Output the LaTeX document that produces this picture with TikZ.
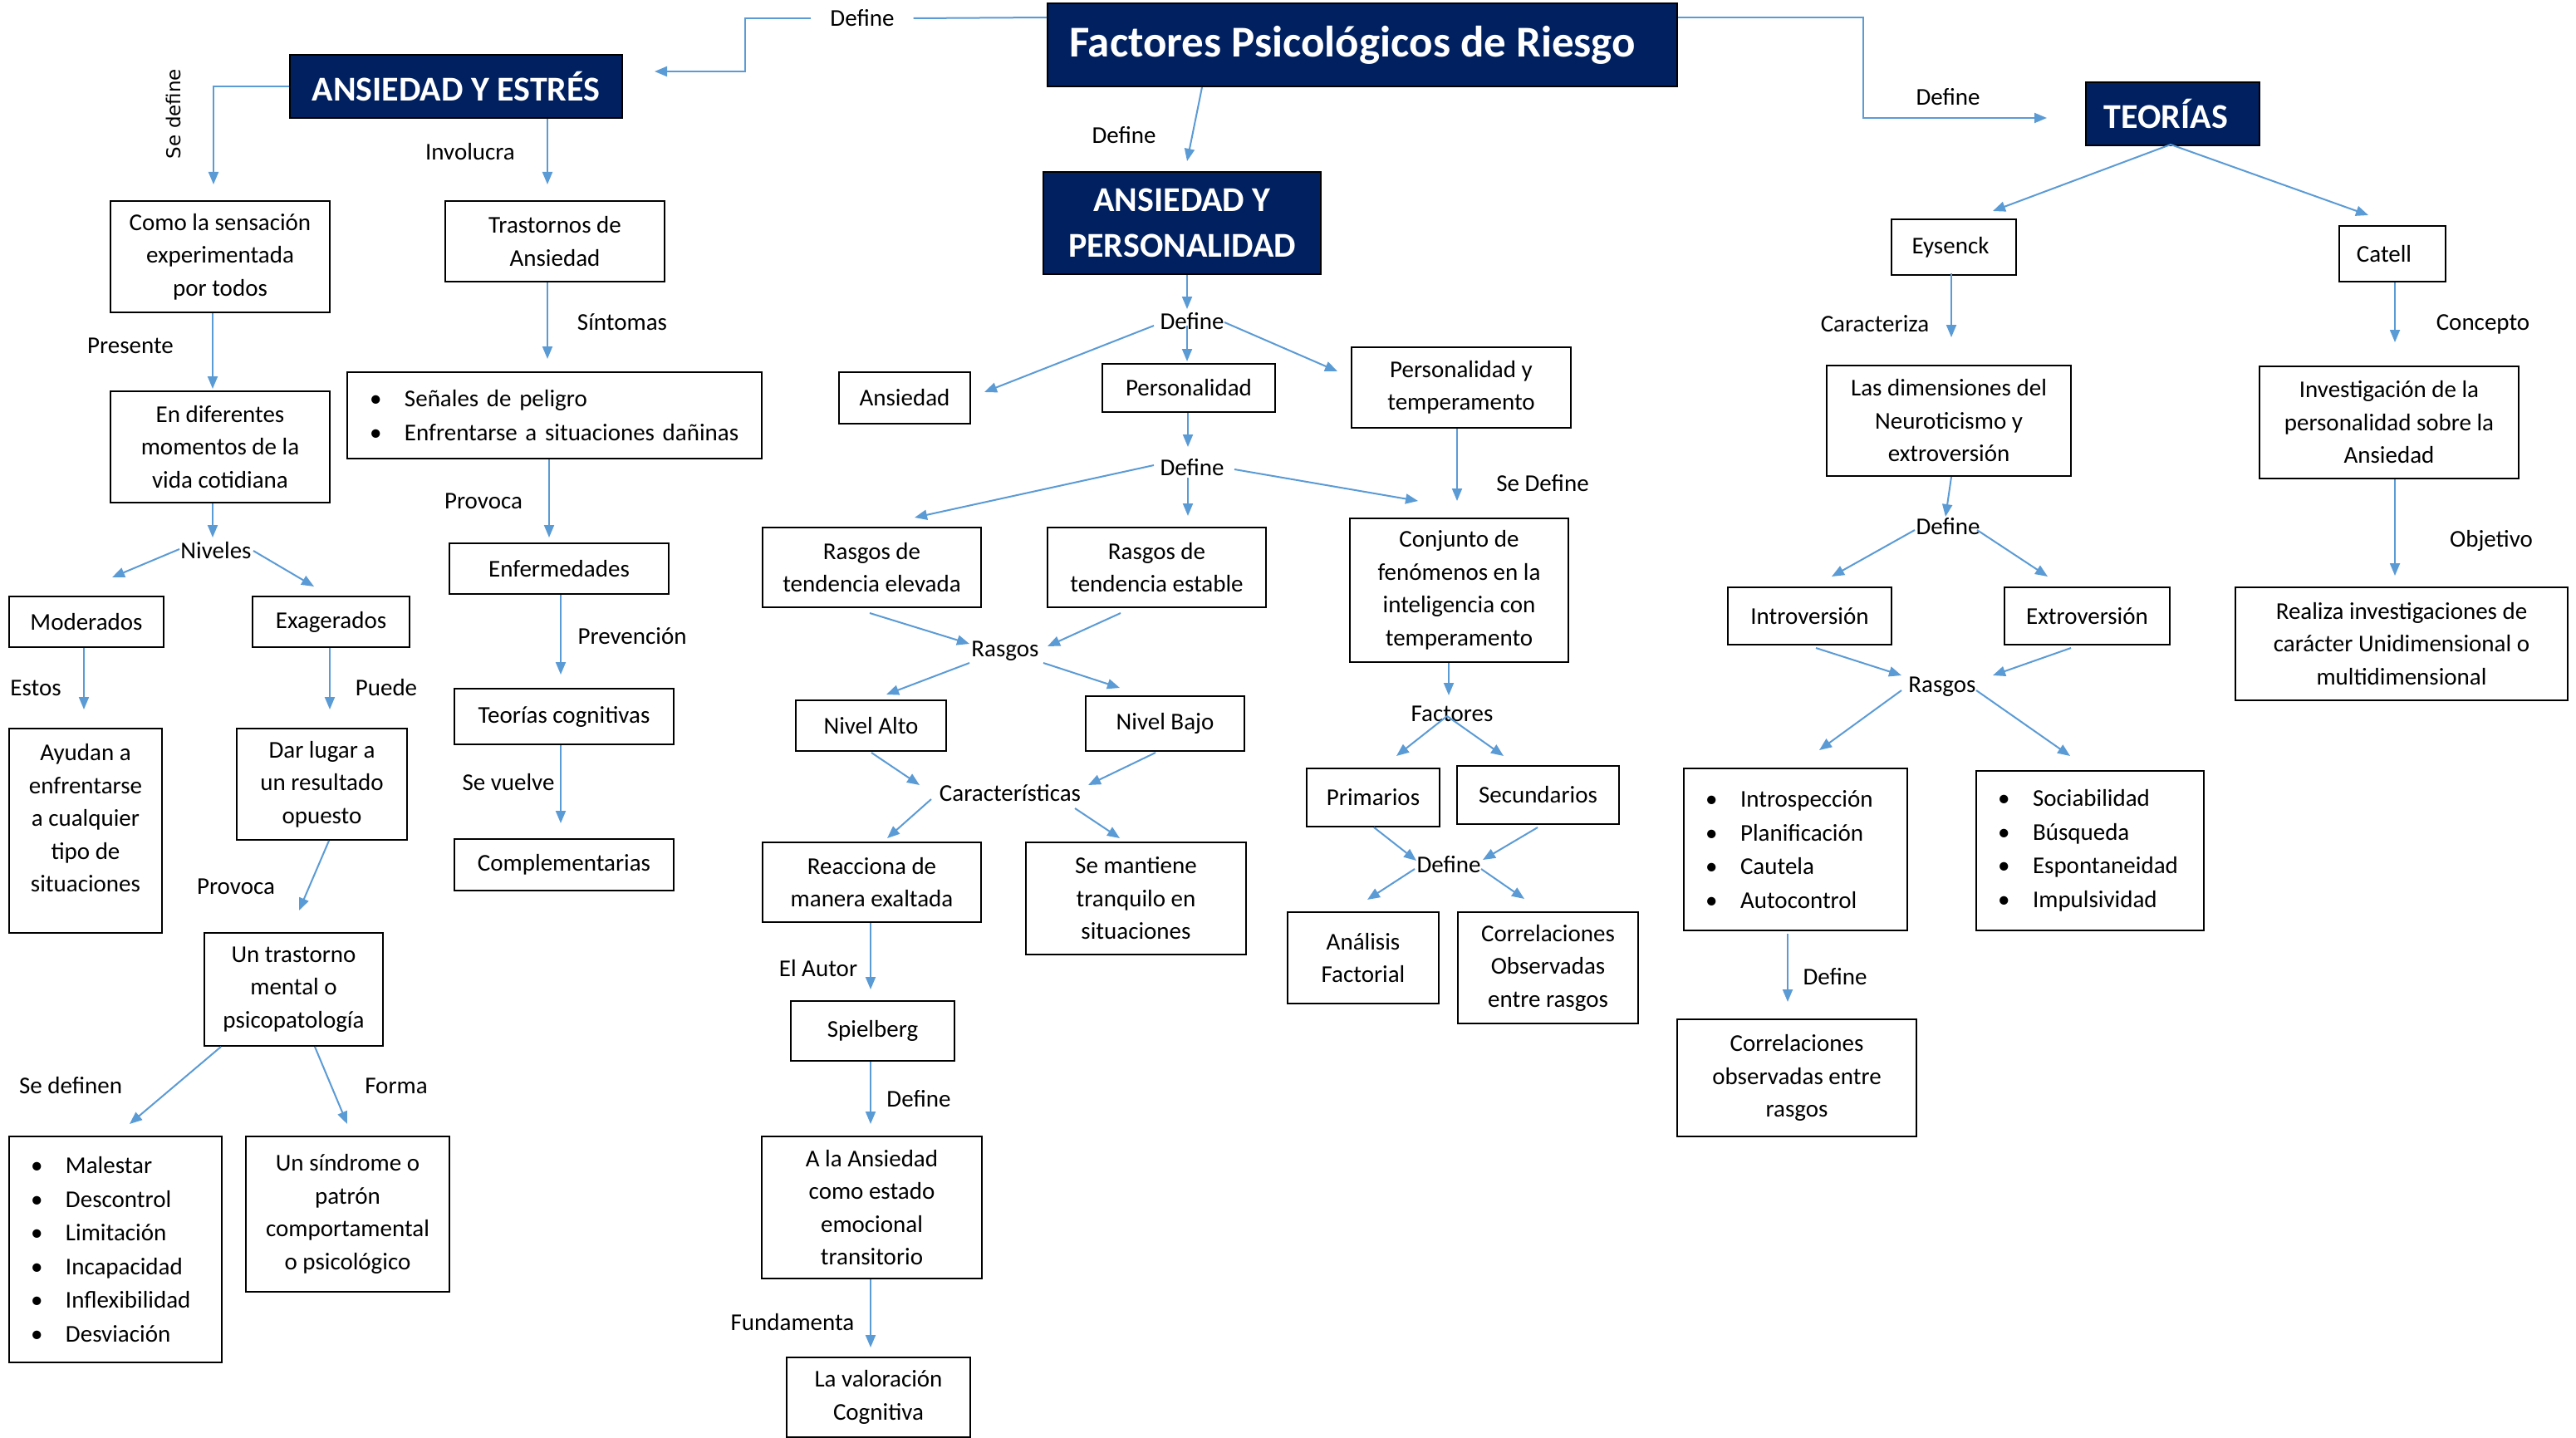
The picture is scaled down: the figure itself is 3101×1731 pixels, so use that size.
\documentclass[tikz,border=0pt]{standalone}
\usepackage{fontspec}
\setmainfont{Carlito}
\newfontfamily\verd{DejaVu Sans}
\usetikzlibrary{arrows.meta}
\definecolor{navy}{HTML}{002060}
\definecolor{lnblue}{HTML}{5B9BD5}
\newcommand{\bul}[1]{\makebox[42pt][l]{\textbullet}#1}
\begin{document}
\begin{tikzpicture}[x=1pt,y=-1pt,
  every node/.style={font=\fontsize{29}{39.5}\selectfont},
  box/.style={draw=black, line width=2pt, fill=white, align=center, inner sep=4pt},
  navybox/.style={draw=black, line width=2pt, fill=navy, text=white, align=center, inner sep=4pt, font=\fontsize{42}{55}\selectfont\bfseries},
  listbox/.style={draw=black, line width=2pt, fill=white, align=left, inner ysep=4pt, font=\fontsize{29}{40.5}\selectfont},
  lbl/.style={inner sep=0pt},
  conn/.style={draw=lnblue, line width=2pt, -{Triangle[length=15pt,width=12pt]}},
  plainconn/.style={draw=lnblue, line width=2pt}
]
\fill[white] (0,0) rectangle (3101,1731);
\useasboundingbox (0,0) rectangle (3101,1731);

% ---------- main boxes ----------
\node[navybox, font=\fontsize{53}{60}\selectfont\bfseries, minimum width=758pt, minimum height=100pt] (title) at (1640,54) {Factores Psicológicos de Riesgo\hspace*{24pt}};
\node[navybox, minimum width=400pt, minimum height=76pt] (aye) at (549,104) {ANSIEDAD Y ESTRÉS};
\node[navybox, minimum width=334pt, minimum height=123pt] (ayp) at (1423,268.5) {ANSIEDAD Y\\PERSONALIDAD};
\node[navybox, minimum width=209pt, minimum height=76pt] (teo) at (2615.5,137) {TEORÍAS\hspace*{16pt}};

% ---------- left branch ----------
\node[box, minimum width=264pt, minimum height=134pt] (como) at (265,309) {Como la sensación\\experimentada\\por todos};
\node[box, minimum width=264pt, minimum height=97pt] (tras) at (668,290.5) {Trastornos de\\Ansiedad};
\node[box, minimum width=264pt, minimum height=134pt] (endif) at (265,538) {En diferentes\\momentos de la\\vida cotidiana};
\node[listbox, inner xsep=27pt, text width=445pt, minimum height=104pt] (senal) at (667.5,500) {\bul{Señales de peligro}\\\bul{Enfrentarse a situaciones dañinas}};
\node[box, minimum width=264pt, minimum height=61pt] (enf) at (673,684.5) {Enfermedades};
\node[box, minimum width=264pt, minimum height=67pt] (teocog) at (679,862.5) {Teorías cognitivas};
\node[box, minimum width=264pt, minimum height=62pt] (compl) at (679,1041) {Complementarias};
\node[box, minimum width=186pt, minimum height=61pt] (mod) at (104,748.5) {Moderados};
\node[box, minimum width=189pt, minimum height=61pt] (exa) at (398.5,748.5) {Exagerados};
\node[box, minimum width=184pt, minimum height=246pt] (ayu) at (103,1000) {Ayudan a\\enfrentarse\\a cualquier\\tipo de\\situaciones\\[-21pt]\strut};
\node[box, minimum width=205pt, minimum height=134pt] (dar) at (387.5,944) {Dar lugar a\\un resultado\\opuesto};
\node[box, minimum width=215pt, minimum height=136pt] (trm) at (353.5,1191) {Un trastorno\\mental o\\psicopatología};
\node[listbox, inner xsep=26pt, text width=204pt, minimum height=272pt] (mal) at (139,1504) {\bul{Malestar}\\\bul{Descontrol}\\\bul{Limitación}\\\bul{Incapacidad}\\\bul{Inflexibilidad}\\\bul{Desviación}};
\node[box, minimum width=245pt, minimum height=187pt] (sin) at (418.5,1461.5) {Un síndrome o\\patrón\\comportamental\\o psicológico};

% ---------- center branch ----------
\node[box, minimum width=158pt, minimum height=62pt] (ans) at (1089,479) {Ansiedad};
\node[box, minimum width=208pt, minimum height=58pt] (per) at (1431,467) {Personalidad};
\node[box, minimum width=264pt, minimum height=97pt] (pyt) at (1759,466.5) {Personalidad y\\temperamento};
\node[box, minimum width=263pt, minimum height=96pt] (elev) at (1049.5,683) {Rasgos de\\tendencia elevada};
\node[box, minimum width=263pt, minimum height=96pt] (esta) at (1392.5,683) {Rasgos de\\tendencia estable};
\node[box, minimum width=263pt, minimum height=173pt] (conj) at (1756.5,710.5) {Conjunto de\\fenómenos en la\\inteligencia con\\temperamento};
\node[box, minimum width=181pt, minimum height=61pt] (nalto) at (1048.5,873.5) {Nivel Alto};
\node[box, minimum width=191pt, minimum height=66pt] (nbajo) at (1402.5,871) {Nivel Bajo};
\node[box, minimum width=263pt, minimum height=96pt] (reac) at (1049.5,1062) {Reacciona de\\manera exaltada};
\node[box, minimum width=265pt, minimum height=135pt] (mant) at (1367.5,1081.5) {Se mantiene\\tranquilo en\\situaciones};
\node[box, minimum width=160pt, minimum height=70pt] (prim) at (1653,960) {Primarios};
\node[box, minimum width=195pt, minimum height=70pt] (secu) at (1851.5,957) {Secundarios};
\node[box, minimum width=182pt, minimum height=110pt] (anal) at (1641,1153) {Análisis\\Factorial};
\node[box, minimum width=217pt, minimum height=134pt] (corr) at (1863.5,1165) {Correlaciones\\Observadas\\entre rasgos};
\node[box, minimum width=197pt, minimum height=72pt] (spiel) at (1050.5,1241) {Spielberg};
\node[box, minimum width=265pt, minimum height=171pt] (alaa) at (1049.5,1453.5) {A la Ansiedad\\como estado\\emocional\\transitorio};
\node[box, minimum width=221pt, minimum height=96pt] (val) at (1057.5,1682) {La valoración\\Cognitiva};

% ---------- right branch ----------
\node[box, minimum width=150pt, minimum height=67pt] (eys) at (2352,297.5) {Eysenck\hspace*{8pt}};
\node[box, minimum width=128pt, minimum height=67pt] (cat) at (2880,305.5) {Catell\hspace*{20pt}};
\node[box, minimum width=294pt, minimum height=133pt] (dim) at (2346,506.5) {Las dimensiones del\\Neuroticismo y\\extroversión};
\node[box, minimum width=312pt, minimum height=135pt] (inv) at (2876,508.5) {Investigación de la\\personalidad sobre la\\Ansiedad};
\node[box, minimum width=197pt, minimum height=69pt] (intro) at (2178.5,741.5) {Introversión};
\node[box, minimum width=199pt, minimum height=69pt] (extro) at (2512.5,741.5) {Extroversión};
\node[listbox, inner xsep=26pt, text width=217pt, minimum height=195pt] (lintro) at (2161.5,1022.5) {\bul{Introspección}\\\bul{Planificación}\\\bul{Cautela}\\\bul{Autocontrol}};
\node[listbox, inner xsep=26pt, text width=222pt, minimum height=192pt] (lextro) at (2516,1024) {\bul{Sociabilidad}\\\bul{Búsqueda}\\\bul{Espontaneidad}\\\bul{Impulsividad}};
\node[box, minimum width=288pt, minimum height=141pt] (corr2) at (2163,1297.5) {Correlaciones\\observadas entre\\rasgos};
\node[box, minimum width=400pt, minimum height=136pt] (real) at (2891,775) {Realiza investigaciones de\\carácter Unidimensional o\\multidimensional};

% ---------- labels ----------
\node[lbl] (lDef1) at (1038,22) {Define};
\node[lbl, rotate=90, font=\verd\fontsize{23}{28}\selectfont] (lSeDef) at (209,137) {Se define};
\node[lbl] (lInv) at (566,183) {Involucra};
\node[lbl] (lSint) at (749,388) {Síntomas};
\node[lbl] (lPres) at (157,416) {Presente};
\node[lbl] (lProv1) at (582,603) {Provoca};
\node[lbl] (lPrev) at (761,766) {Prevención};
\node[lbl] (lSeV) at (612,942) {Se vuelve};
\node[lbl] (lEst) at (43,828) {Estos};
\node[lbl] (lPue) at (465,828) {Puede};
\node[lbl] (lProv2) at (284,1067) {Provoca};
\node[lbl] (lSeDn) at (85,1307) {Se definen};
\node[lbl] (lForma) at (477,1307) {Forma};
\node[lbl] (hNiv) at (260,663) {Niveles};
\node[lbl] (lDef2) at (1353,163) {Define};
\node[lbl] (hDefA) at (1435,387) {Define};
\node[lbl] (hDefB) at (1435,563) {Define};
\node[lbl] (lSeDefine) at (1857,582) {Se Define};
\node[lbl] (hRas) at (1210,784) {Rasgos};
\node[lbl] (hCar) at (1216,955) {Características};
\node[lbl] (lAutor) at (985,1166) {El Autor};
\node[lbl] (lDef4) at (1106,1323) {Define};
\node[lbl] (lFund) at (954,1592) {Fundamenta};
\node[lbl] (hFac) at (1748,859) {Factores};
\node[lbl] (hDefC) at (1744,1041) {Define};
\node[lbl] (lDefT) at (2345,117) {Define};
\node[lbl] (lCar) at (2257,390) {Caracteriza};
\node[lbl] (lConc) at (2989,390) {Concepto};
\node[lbl] (hDefD) at (2345,634) {Define};
\node[lbl] (hRas2) at (2338,827) {Rasgos};
\node[lbl] (lDef6) at (2209,1176) {Define};
\node[lbl] (lObj) at (2999,651) {Objetivo};

% ---------- connectors ----------
\draw[plainconn] ([shift={(0,18)}]title.north west) -- ([shift={(23,0)}]lDef1.east);
\draw[conn] ([shift={(-23,0)}]lDef1.west) -- ++(-79,0) |- ([shift={(38,-18)}]aye.east);
\draw[conn] (aye.west) -| ([shift={(-8,-19)}]como.north);
\draw[conn] ([shift={(110,0)}]aye.south) -- ([shift={(-9,-19)}]tras.north);
\draw[conn] ([shift={(-9,0)}]tras.south) -- ([shift={(-8.5,-15)}]senal.north);
\draw[conn] ([shift={(-9,0)}]como.south) -- ([shift={(-9,-2)}]endif.north);
\draw[conn] ([shift={(-9,0)}]endif.south) -- ([shift={(-4,-16)}]hNiv.center);
\draw[conn] ([shift={(-44,-2)}]hNiv.center) -- ([shift={(31,-22)}]mod.north);
\draw[conn] ([shift={(45,0)}]hNiv.center) -- ([shift={(-20.5,-11)}]exa.north);
\draw[conn] ([shift={(-3,0)}]mod.south) -- ([shift={(-2,-22)}]ayu.north);
\draw[conn] ([shift={(-1.5,0)}]exa.south) -- ([shift={(9.5,-22)}]dar.north);
\draw[conn] ([shift={(8.5,0)}]dar.south) -- ([shift={(6.5,-26)}]trm.north);
\draw[conn] ([shift={(-87.5,0)}]trm.south) -- ([shift={(17,-14)}]mal.north);
\draw[conn] ([shift={(25.5,0)}]trm.south) -- ([shift={(-0.5,-14)}]sin.north);
\draw[conn] ([shift={(-6.5,0)}]senal.south) -- ([shift={(-12,-6)}]enf.north);
\draw[conn] ([shift={(2,0)}]enf.south) -- ([shift={(-4,-16)}]teocog.north);
\draw[conn] ([shift={(-4,0)}]teocog.south) -- ([shift={(-4,-18)}]compl.north);

\draw[conn] ([shift={(-193,0)}]title.south) -- ([shift={(6,-12)}]ayp.north);
\draw[conn] ([shift={(6,0)}]ayp.south) -- ([shift={(-6,-15)}]hDefA.center);
\draw[conn] ([shift={(-46,5)}]hDefA.center) -- ([shift={(16,-7)}]ans.east);
\draw[conn] ([shift={(-6,5)}]hDefA.center) -- ([shift={(-2,-2)}]per.north);
\draw[conn] ([shift={(39,1)}]hDefA.center) -- ([shift={(-16,30)}]pyt.north west);
\draw[conn] ([shift={(-1,0)}]per.south) -- ([shift={(-5,-25)}]hDefB.center);
\draw[conn] ([shift={(-46,-3)}]hDefB.center) -- ([shift={(-81,-11)}]elev.north east);
\draw[conn] ([shift={(-5,12)}]hDefB.center) -- ([shift={(37.5,-13)}]esta.north);
\draw[conn] ([shift={(51,2)}]hDefB.center) -- ([shift={(83,-20)}]conj.north west);
\draw[conn] ([shift={(-5,0)}]pyt.south) -- ([shift={(-2.5,-20)}]conj.north);
\draw[conn] ([shift={(-2.5,6)}]elev.south) -- ([shift={(-43,-9)}]hRas.center);
\draw[conn] ([shift={(-43.5,6)}]esta.south) -- ([shift={(51,-6)}]hRas.center);
\draw[conn] ([shift={(-43,14)}]hRas.center) -- ([shift={(18.5,-6)}]nalto.north);
\draw[conn] ([shift={(46,14)}]hRas.center) -- ([shift={(-54.5,-9)}]nbajo.north);
\draw[conn] ([shift={(0.5,1)}]nalto.south) -- ([shift={(-109,-10)}]hCar.center);
\draw[conn] ([shift={(-11.5,1)}]nbajo.south) -- ([shift={(94,-10)}]hCar.center);
\draw[conn] ([shift={(-95,7)}]hCar.center) -- ([shift={(18.5,-4)}]reac.north);
\draw[conn] ([shift={(78,18)}]hCar.center) -- ([shift={(-19.5,-4)}]mant.north);
\draw[conn] ([shift={(-1.5,0)}]reac.south) -- ([shift={(-2.5,-13)}]spiel.north);
\draw[conn] ([shift={(-2.5,0)}]spiel.south) -- ([shift={(-1.5,-14)}]alaa.north);
\draw[conn] ([shift={(-1.5,0)}]alaa.south) -- ([shift={(-9.5,-11)}]val.north);
\draw[conn] ([shift={(-12.5,0)}]conj.south) -- ([shift={(-4,-22)}]hFac.center);
\draw[conn] ([shift={(-6,3)}]hFac.center) -- ([shift={(28,-14)}]prim.north);
\draw[conn] ([shift={(-6,3)}]hFac.center) -- ([shift={(-41.5,-11)}]secu.north);
\draw[conn] ([shift={(1,0)}]prim.south) -- ([shift={(-39,-5)}]hDefC.center);
\draw[conn] ([shift={(-0.5,3)}]secu.south) -- ([shift={(41,-6)}]hDefC.center);
\draw[conn] ([shift={(-41,5)}]hDefC.center) -- ([shift={(5,-14)}]anal.north);
\draw[conn] ([shift={(39,5)}]hDefC.center) -- ([shift={(-28.5,-15)}]corr.north);

\draw[conn] ([shift={(0,18)}]title.north east) -- ++(223,0) |- ([shift={(-46,5)}]teo.west);
\draw[conn] ([shift={(-2.5,-2)}]teo.south) -- ([shift={(47,-9)}]eys.north);
\draw[conn] ([shift={(-2.5,-2)}]teo.south) -- ([shift={(-29,-12)}]cat.north);
\draw[conn] ([shift={(-3,-3)}]eys.south) -- ([shift={(3,-33)}]dim.north);
\draw[conn] ([shift={(3,0)}]cat.south) -- ([shift={(7,-28)}]inv.north);
\draw[conn] ([shift={(3,0)}]dim.south) -- ([shift={(-3,-12)}]hDefD.center);
\draw[conn] ([shift={(-40,4)}]hDefD.center) -- ([shift={(26.5,-12)}]intro.north);
\draw[conn] ([shift={(35,4)}]hDefD.center) -- ([shift={(-47.5,-12)}]extro.north);
\draw[conn] ([shift={(7.5,3)}]intro.south) -- ([shift={(-49,-14)}]hRas2.center);
\draw[conn] ([shift={(-19.5,3)}]extro.south) -- ([shift={(61,-14)}]hRas2.center);
\draw[conn] ([shift={(-49,4)}]hRas2.center) -- ([shift={(28.5,-21)}]lintro.north);
\draw[conn] ([shift={(41,4)}]hRas2.center) -- ([shift={(-24,-17)}]lextro.north);
\draw[conn] ([shift={(-9.5,3)}]lintro.south) -- ([shift={(-11,-20)}]corr2.north);
\draw[conn] ([shift={(7,0)}]inv.south) -- ([shift={(-8,-13)}]real.north);
\end{tikzpicture}
\end{document}
